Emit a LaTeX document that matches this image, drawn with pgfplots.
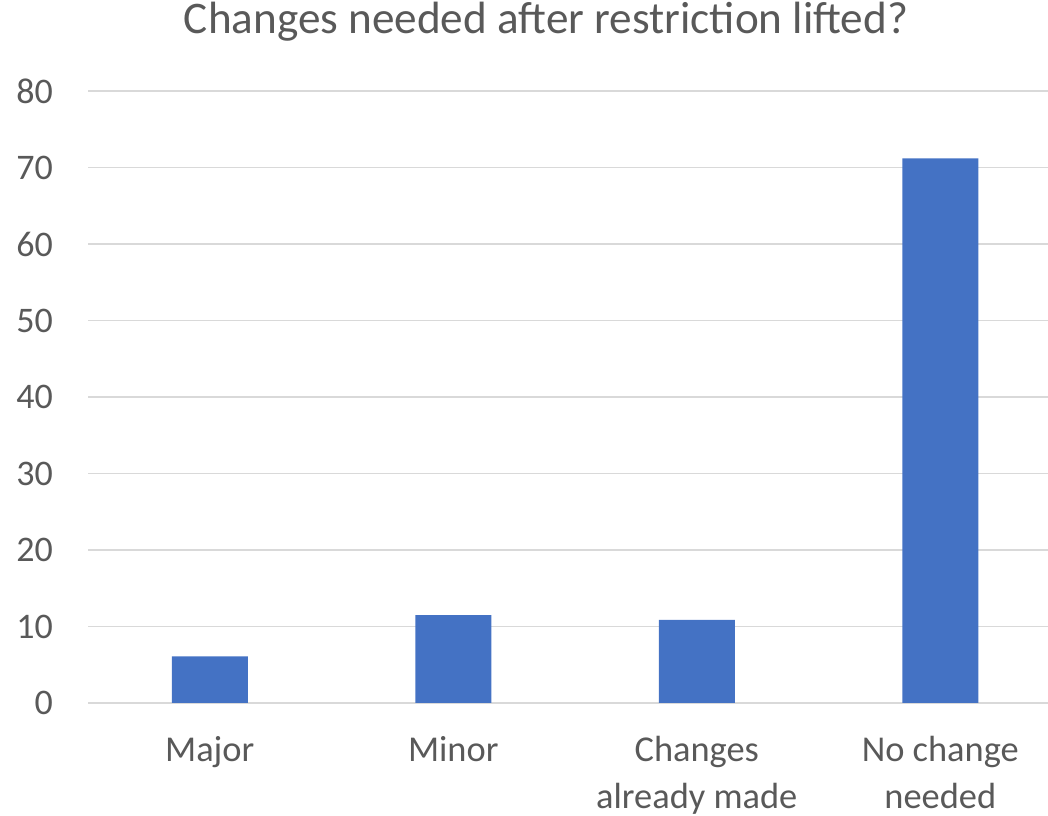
\documentclass[border=0pt]{standalone}
\usepackage{pgfplots}
\pgfplotsset{compat=1.18}
\usepackage{fontspec}
\setmainfont{Carlito}
\definecolor{txt}{RGB}{89,89,89}
\definecolor{gridc}{RGB}{217,217,217}
\definecolor{barc}{RGB}{68,114,196}
\begin{document}
\begin{tikzpicture}
\begin{axis}[
  scale only axis,
  width=487pt, height=306pt,
  ymin=0, ymax=80, ytick={0,10,...,80},
  xmin=-0.5, xmax=3.5,
  xtick={0,1,2,3},
  xticklabels={Major, Minor, {Changes\\already made}, {No change\\needed}},
  xticklabel style={align=center, font=\fontsize{18.2}{23.5}\selectfont, text=txt, yshift=-13pt},
  yticklabel style={font=\fontsize{18}{20}\selectfont, text=txt, xshift=-14pt},
  /pgf/number format/assume math mode=true,
  ymajorgrids, xmajorgrids=false, grid style={gridc, line width=0.8pt},
  axis x line*=bottom, axis y line*=left,
  x axis line style={gridc, line width=0.8pt, -},
  y axis line style={draw=none},
  major tick length=0pt,
  title={Changes needed after restriction lifted?},
  title style={font=\fontsize{22.6}{26}\selectfont, text=txt, at={(0.5,1)}, anchor=center, yshift=28.5pt, xshift=-14.5pt},
  clip=false,
]
\addplot[ybar, bar width=38pt, fill=barc, draw=none] coordinates {(0,6.1) (1,11.5) (2,10.85) (3,71.2)};
\end{axis}
\pgfresetboundingbox
\path ([shift={(-44pt,-56.5pt)}]current axis.south west) rectangle ([shift={(480pt,45.5pt)}]current axis.north west);
\end{tikzpicture}
\end{document}
